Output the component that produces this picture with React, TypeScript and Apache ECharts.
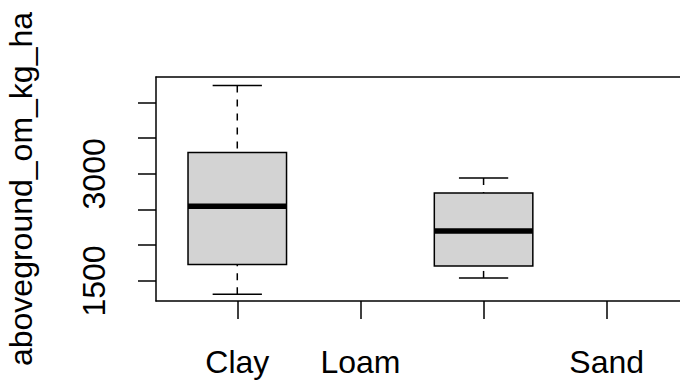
import React, { useEffect, useRef } from "react";
import * as echarts from "echarts";

const categories = ["Clay", "Loam", "Loamy sand", "Sand"];
const labeledCategories = ["Clay", "Loam", "Sand"];
const whiskerLow: (number | null)[] = [1313, null, 1542, null];
const q1: (number | null)[] = [1730, null, 1711, null];
const median: (number | null)[] = [2545, null, 2198, null];
const q3: (number | null)[] = [3298, null, 2732, null];
const whiskerHigh: (number | null)[] = [4239, null, 2942, null];
const yTicks = [1500, 2000, 2500, 3000, 3500, 4000];
const yLabels = [1500, 3000];
const yName = "aboveground_om_kg_ha";

const FONT = "'Liberation Sans', Arial, Helvetica, sans-serif";

export default function App() {
  const ref = useRef<HTMLDivElement>(null);
  useEffect(() => {
    document.body.style.margin = "0";
    if (!ref.current) return;
    const chart = echarts.init(ref.current, null, { renderer: "svg" });
    const data: number[][] = [];
    categories.forEach((_, i) => {
      if (median[i] != null) {
        data.push([i + 1, whiskerLow[i]!, q1[i]!, median[i]!, q3[i]!, whiskerHigh[i]!]);
      }
    });
    const n = categories.length;
    const ext = n * 0.04;
    const frameLine = { show: true, lineStyle: { color: "#000", width: 1.5 } };
    const option: any = {
      animation: false,
      grid: {
        left: 156,
        top: 77,
        width: 532,
        height: 224,
        show: false,
        containLabel: false,
        outerBoundsMode: "none",
      },
      xAxis: [
        {
          type: "value",
          min: 0.5 - ext,
          max: n + 0.5 + ext,
          position: "bottom",
          splitLine: { show: false },
          axisLine: frameLine,
          axisTick: {
            show: true,
            customValues: categories.map((_, i) => i + 1),
            length: 18,
            lineStyle: { color: "#000", width: 1.5 },
          },
          axisLabel: {
            show: true,
            customValues: labeledCategories.map((c) => categories.indexOf(c) + 1),
            formatter: (v: number) => categories[Math.round(v) - 1] ?? "",
            margin: 45,
            fontSize: 32,
            fontFamily: FONT,
            color: "#000",
          },
        },
        {
          type: "value",
          min: 0.5 - ext,
          max: n + 0.5 + ext,
          position: "top",
          splitLine: { show: false },
          axisLine: frameLine,
          axisTick: { show: false },
          axisLabel: { show: false },
        },
      ],
      yAxis: {
        type: "value",
        min: 1219,
        max: 4357,
        splitLine: { show: false },
        axisLine: frameLine,
        axisTick: {
          show: true,
          customValues: yTicks,
          length: 18,
          lineStyle: { color: "#000", width: 1.5 },
        },
        axisLabel: {
          show: true,
          customValues: yLabels,
          formatter: (v: number) => String(v),
          rotate: 90,
          margin: 46,
          fontSize: 32,
          fontFamily: FONT,
          color: "#000",
        },
        name: yName,
        nameLocation: "middle",
        nameRotate: 90,
        nameGap: 119,
        nameTextStyle: { fontSize: 32, fontFamily: FONT, color: "#000" },
      },
      series: [
        {
          type: "custom",
          xAxisIndex: 0,
          data,
          encode: { x: 0, y: [1, 2, 3, 4, 5] },
          renderItem: (params: any, api: any) => {
            const x = api.value(0);
            const lo = api.value(1);
            const b1 = api.value(2);
            const md = api.value(3);
            const b3 = api.value(4);
            const hi = api.value(5);
            const boxL = api.coord([x - 0.4, b3]);
            const boxR = api.coord([x + 0.4, b1]);
            const capL = api.coord([x - 0.2, hi])[0];
            const capR = api.coord([x + 0.2, hi])[0];
            const cx = api.coord([x, md])[0];
            const yLo = api.coord([x, lo])[1];
            const yHi = api.coord([x, hi])[1];
            const yMd = api.coord([x, md])[1];
            const whisk = { stroke: "#000", lineWidth: 1.5, lineDash: [7, 7] };
            const solid = { stroke: "#000", lineWidth: 1.5 };
            return {
              type: "group",
              children: [
                { type: "line", shape: { x1: cx, y1: yHi, x2: cx, y2: boxL[1] }, style: whisk },
                { type: "line", shape: { x1: cx, y1: yLo, x2: cx, y2: boxR[1] }, style: whisk },
                { type: "line", shape: { x1: capL, y1: yHi, x2: capR, y2: yHi }, style: solid },
                { type: "line", shape: { x1: capL, y1: yLo, x2: capR, y2: yLo }, style: solid },
                {
                  type: "rect",
                  shape: { x: boxL[0], y: boxL[1], width: boxR[0] - boxL[0], height: boxR[1] - boxL[1] },
                  style: { fill: "#d3d3d3", stroke: "#000", lineWidth: 1.5 },
                },
                {
                  type: "line",
                  shape: { x1: boxL[0], y1: yMd, x2: boxR[0], y2: yMd },
                  style: { stroke: "#000", lineWidth: 5.5 },
                },
              ],
            };
          },
        },
      ],
    };
    chart.setOption(option);
    return () => chart.dispose();
  }, []);
  return <div ref={ref} style={{ width: 680, height: 381 }} />;
}
